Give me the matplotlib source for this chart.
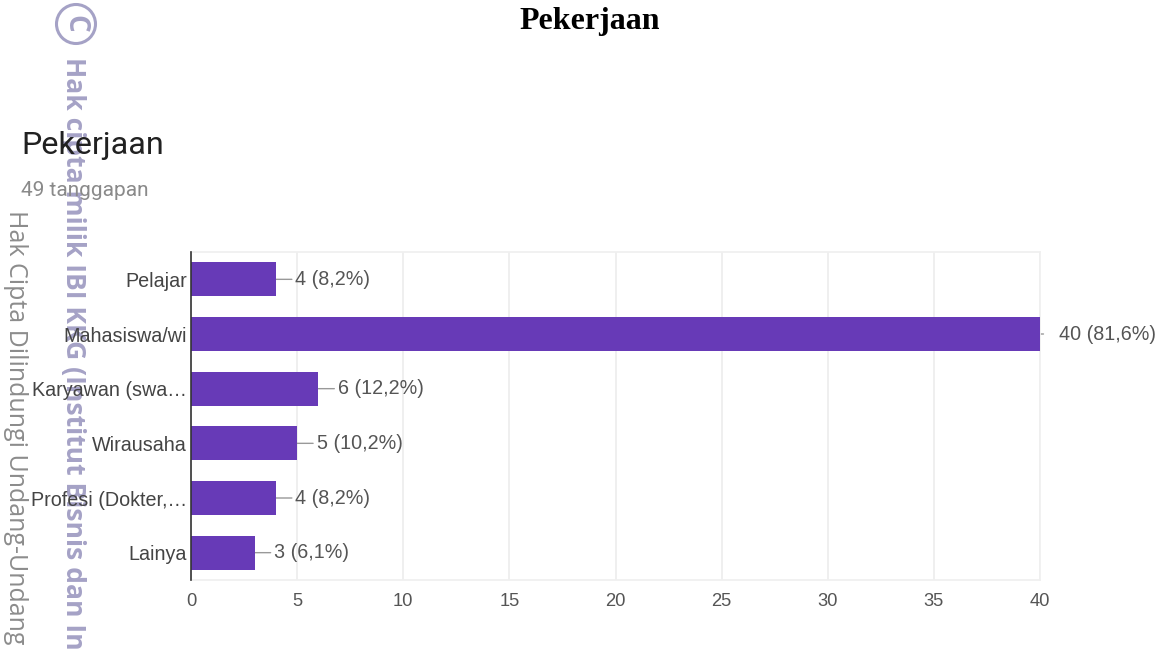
import matplotlib
matplotlib.use('Agg')
from matplotlib import pyplot as plt
from matplotlib.patches import Circle

categories = ['Pelajar', 'Mahasiswa/wi', 'Karyawan (swa…', 'Wirausaha', 'Profesi (Dokter,…', 'Lainya']
counts = [4, 40, 6, 5, 4, 3]
labels = ['4 (8,2%)', '40 (81,6%)', '6 (12,2%)', '5 (10,2%)', '4 (8,2%)', '3 (6,1%)']
x_ticks = [0, 5, 10, 15, 20, 25, 30, 35, 40]

W, H = 1162, 652
plt.rcParams['font.family'] = ['Liberation Sans', 'DejaVu Sans']

fig = plt.figure(figsize=(W / 100, H / 100), dpi=100)
ax = fig.add_axes([191 / W, 1 - 580 / H, (1040 - 191) / W, (580 - 252) / H])

ax.barh(range(len(counts)), counts, height=0.62, color='#673ab7', zorder=3)
ax.set_xlim(0, 40)
ax.set_ylim(len(counts) - 0.5, -0.5)

ax.set_yticks(range(len(categories)))
ax.set_yticklabels(categories, fontsize=14.2, color='#444444')
ax.set_xticks(x_ticks)
ax.tick_params(axis='x', length=0, pad=9, labelsize=13.2, labelcolor='#555555')
ax.tick_params(axis='y', length=0, pad=3)
ax.grid(axis='x', color='#eeeeee', linewidth=1.3, zorder=0)

for side in ['top', 'right', 'bottom']:
    ax.spines[side].set_color('#f0f0f0')
    ax.spines[side].set_linewidth(1.3)
ax.spines['left'].set_color('#333333')
ax.spines['left'].set_linewidth(1.2)
ax.spines['left'].set_zorder(5)

# connector + value label, the long bar has almost no connector
for i, (c, lab) in enumerate(zip(counts, labels)):
    line_len = 2.5 if c == 40 else 11.5
    ax.annotate('', xy=(c, i), xytext=(line_len, 0), textcoords='offset points',
                arrowprops=dict(arrowstyle='-', color='#999999', lw=1, shrinkA=0, shrinkB=0),
                annotation_clip=False, zorder=2)
    ax.annotate(lab, xy=(c, i), xytext=(14, 0), textcoords='offset points',
                va='center', ha='left', fontsize=14.2, color='#555555', annotation_clip=False)

fig.text(590 / W, 1 - 21 / H, 'Pekerjaan', family='Liberation Serif', fontweight='bold',
         fontsize=23, color='black', ha='center', va='center')
fig.text(21 / W, 1 - 146 / H, 'Pekerjaan', family='Roboto', fontsize=23.3, color='#212121',
         ha='left', va='center')
fig.text(21 / W, 1 - 190 / H, '49 tanggapan', family='Roboto', fontsize=15, color='#8a8a8a',
         ha='left', va='center')

# watermark down the left side, sits under the chart text
wm = '#a5a2c6'
fig.text(73 / W, 1 - 57 / H, 'Hak cipta milik IBI KKG (Institut Bisnis dan In',
         family='Open Sans', fontweight='bold', fontsize=19.1, color=wm,
         rotation=-90, ha='center', va='top', zorder=-1)
fig.text(15 / W, 1 - 210 / H, 'Hak Cipta Dilindungi Undang-Undang', family='Open Sans',
         fontsize=18, color='#8c8c8c', rotation=-90, ha='center', va='top', zorder=-1)
fig.add_artist(Circle((76, H - 24), 19.5, transform=None, fill=False, edgecolor=wm, linewidth=2.2))
fig.text(75 / W, 1 - 24 / H, 'C', family='Open Sans', fontweight='bold', fontsize=20, color=wm,
         rotation=-90, ha='center', va='center')

fig.savefig('out.png', dpi=100)
